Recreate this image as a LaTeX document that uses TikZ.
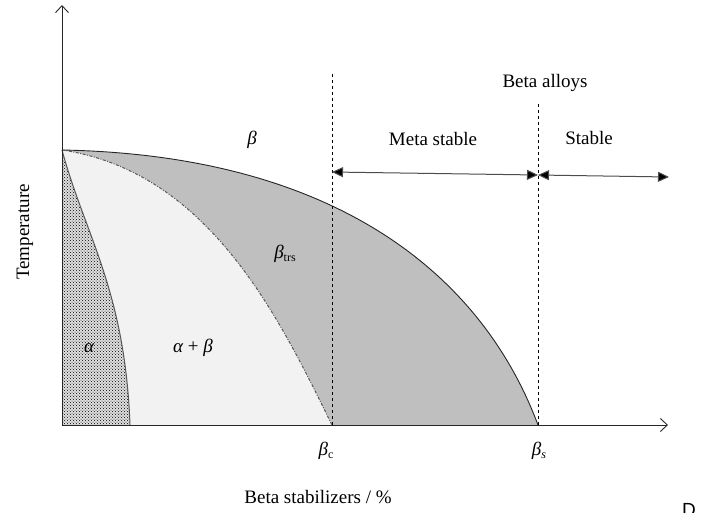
\documentclass[tikz,border=0pt]{standalone}
\usepackage{fontspec}
\setmainfont{Liberation Serif}
\newfontfamily\sansD{Liberation Sans}
\usetikzlibrary{arrows.meta,patterns}
\begin{document}
\begin{tikzpicture}[x=1pt,y=-1pt,
  lbl/.style={font=\fontsize{19}{22}\selectfont, inner sep=0pt},
  axisline/.style={draw=black!85, line width=0.9pt, -{Straight Barb[length=7pt,width=13pt]}},
  dashv/.style={draw=black, dashed, line width=0.8pt},
  dblarrow/.style={draw=black!70, line width=1pt, {Triangle[length=11pt,width=10pt,fill=black]}-{Triangle[length=11pt,width=10pt,fill=black]}},
  betacurve/.style={draw=black!85, line width=0.9pt},
  trscurve/.style={draw=black!65, line width=1pt, dash pattern=on 3pt off 1.5pt on 1pt off 1.5pt},
  alphacurve/.style={draw=black!65, line width=1pt}
]
\useasboundingbox (0,0) rectangle (708,512);
\coordinate (O) at (62,425);
\coordinate (top) at (62,150);
\coordinate (bs) at (538,425);
\coordinate (bc) at (332,425);
\coordinate (ae) at (130,425);
\coordinate (yend) at (62,5);
\coordinate (xend) at (668,425);
\coordinate (d1t) at (332,73);
\coordinate (d2t) at (538,103);
\coordinate (m1) at (332,172);
\coordinate (m2) at (538,175);
\coordinate (s1) at (538,175);
\coordinate (s2) at (669,177);
% regions
\fill[black!25] (top) .. controls (330,155) and (480,270) .. (bs) -- (O) -- cycle;
\fill[black!5] (top) .. controls (210,172) and (280,320) .. (bc) -- (O) -- cycle;
\fill[black!12] (top) .. controls (85,235) and (125,290) .. (ae) -- (O) -- cycle;
\fill[pattern=crosshatch dots, pattern color=black] (top) .. controls (85,235) and (125,290) .. (ae) -- (O) -- cycle;
% curves
\draw[betacurve] (top) .. controls (330,155) and (480,270) .. (bs);
\draw[trscurve] (top) .. controls (210,172) and (280,320) .. (bc);
\draw[alphacurve] (top) .. controls (85,235) and (125,290) .. (ae);
% axes
\draw[axisline] (O) -- (yend);
\draw[axisline] (O) -- (xend);
% dashed verticals
\draw[dashv] (bc) -- (d1t);
\draw[dashv] (bs) -- (d2t);
% range arrows
\draw[dblarrow] (m1) -- (m2);
\draw[dblarrow] (s1) -- (s2);
% labels
\node[lbl] (lbeta) at (252,140) {\itshape β};
\node[lbl] (lmeta) at (433,139) {Meta stable};
\node[lbl] (lstable) at (589,138) {Stable};
\node[lbl] (lalloys) at (545,83) {Beta alloys};
\node[lbl] (ltrs) at (285,254) {{\itshape β}{\fontsize{12}{14}\selectfont\raisebox{-3pt}{trs}}};
\node[lbl] (lalpha) at (89,348) {\itshape α};
\node[lbl] (lab) at (193,348) {{\itshape α} + {\itshape β}};
\node[lbl] (lbc) at (326,451) {{\itshape β}{\fontsize{12}{14}\selectfont\raisebox{-3pt}{c}}};
\node[lbl] (lbs) at (539,451) {{\itshape β}{\fontsize{12}{14}\selectfont\raisebox{-3pt}{\itshape s}}};
\node[lbl] (lx) at (318,497) {Beta stabilizers / \%};
\node[lbl, rotate=90] (ly) at (25,232) {Temperature};
\node[lbl, anchor=north, font=\sansD\fontsize{19}{22}\selectfont] (lD) at (689,503) {D};
\end{tikzpicture}
\end{document}
